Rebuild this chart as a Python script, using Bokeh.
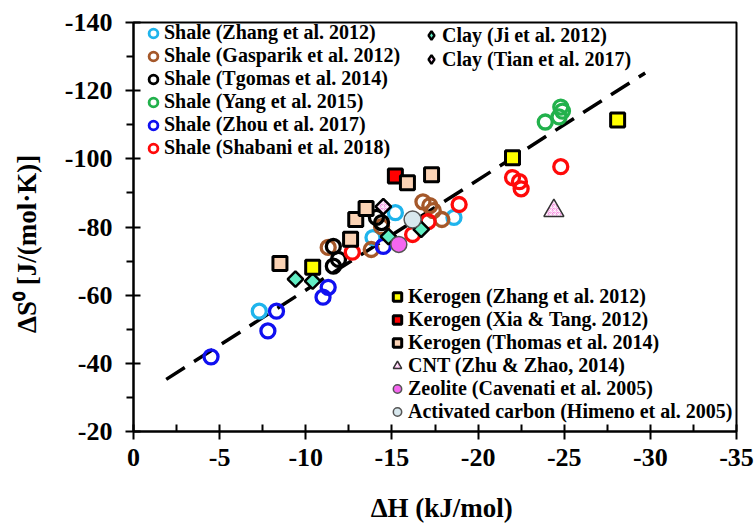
import math
from bokeh.plotting import figure
from bokeh.models import Range1d, FixedTicker, Legend, LegendItem
from bokeh.embed import file_html
from bokeh.resources import INLINE

# ---------------- data (ΔH in kJ/mol, ΔS0 in J/(mol·K)) ----------------
shale_zhang_h = [-7.3, -13.9, -15.2, -18.6]
shale_zhang_s = [-55.3, -76.9, -84.2, -82.8]
shale_gasparik_h = [-11.3, -13.8, -14.4, -16.8, -17.2, -17.4, -17.9]
shale_gasparik_s = [-74.0, -73.4, -80.1, -87.4, -86.3, -84.8, -82.2]
shale_tgomas_h = [-11.6, -11.9, -11.6, -14.1, -14.4]
shale_tgomas_s = [-74.3, -70.5, -68.5, -82.8, -81.3]
shale_yang_h = [-23.9, -24.7, -24.9, -24.8]
shale_yang_s = [-110.8, -112.3, -114.0, -115.2]
shale_zhou_h = [-4.5, -7.8, -8.3, -11.0, -11.3, -14.5]
shale_zhou_s = [-41.9, -49.5, -55.3, -59.4, -62.3, -74.3]
shale_shabani_h = [-12.7, -16.2, -17.1, -18.9, -22.0, -22.4, -22.5, -24.8]
shale_shabani_s = [-72.6, -77.8, -81.6, -86.6, -94.5, -93.3, -91.2, -97.7]
kerogen_zhang_h = [-10.4, -22.0, -28.1]
kerogen_zhang_s = [-68.2, -100.3, -111.4]
kerogen_xia_h = [-15.2]
kerogen_xia_s = [-95.0]
kerogen_thomas_h = [-8.5, -12.6, -12.9, -13.5, -15.9, -17.3]
kerogen_thomas_s = [-69.3, -76.4, -82.2, -85.4, -93.0, -95.3]
clay_ji_h = [-9.4, -10.4, -14.8, -16.7]
clay_ji_s = [-64.7, -64.1, -77.2, -79.3]
clay_tian_h = [-14.5]
clay_tian_s = [-86.0]
cnt_h = [-24.4]
cnt_s = [-84.8]
zeolite_h = [-15.4]
zeolite_s = [-74.9]
ac_h = [-16.2]
ac_s = [-82.2]
fit_h = [-1.9, -29.7]
fit_s = [-35.3, -125.2]

x_ticks = [0, -5, -10, -15, -20, -25, -30, -35]
x_minor = [-2.5, -7.5, -12.5, -17.5, -22.5, -27.5, -32.5]
y_ticks = [-20, -40, -60, -80, -100, -120, -140]
y_minor = [-30, -50, -70, -90, -110, -130]
x_labels = ["0", "-5", "-10", "-15", "-20", "-25", "-30", "-35"]
y_labels = ["-20", "-40", "-60", "-80", "-100", "-120", "-140"]

FONT = "Liberation Serif"
NAN = [float("nan")]
NBSP = "\u00a0"

p = figure(width=756, height=525, output_backend="svg", toolbar_location=None,
           x_range=Range1d(0, -35), y_range=Range1d(-20, -140),
           min_border_left=133, min_border_right=20, min_border_top=22,
           min_border_bottom=92)
p.grid.visible = False
p.outline_line_color = "black"
p.outline_line_width = 2
p.background_fill_color = "white"
p.border_fill_color = "white"

p.xaxis.ticker = FixedTicker(ticks=x_ticks, minor_ticks=x_minor)
p.yaxis.ticker = FixedTicker(ticks=y_ticks, minor_ticks=y_minor)
p.xaxis.major_label_overrides = dict(zip(x_ticks, x_labels))
p.yaxis.major_label_overrides = dict(zip(y_ticks, y_labels))
for ax in (p.xaxis[0], p.yaxis[0]):
    ax.axis_line_width = 2
    ax.major_tick_line_width = 2
    ax.minor_tick_line_width = 2
    ax.major_tick_in = 7
    ax.major_tick_out = 8
    ax.major_label_text_font = FONT
    ax.major_label_text_font_style = "bold"
    ax.major_label_text_font_size = "26px"
    ax.major_label_text_color = "black"
    ax.axis_label_text_font = FONT
    ax.axis_label_text_font_style = "bold"
    ax.axis_label_text_font_size = "27px"
    ax.axis_label_text_color = "black"
p.xaxis.minor_tick_in = 7
p.xaxis.minor_tick_out = 0
p.yaxis.minor_tick_in = 0
p.yaxis.minor_tick_out = 7
p.xaxis.major_label_standoff = 9
p.yaxis.major_label_standoff = 13
p.xaxis.axis_label = NBSP * 2 + "ΔH (kJ/mol)"
p.yaxis.axis_label = "ΔS⁰ [J/(mol·K)]" + NBSP * 5
p.xaxis.axis_label_standoff = 24
p.yaxis.axis_label_standoff = 20

# trend line
p.line(fit_h, fit_s, line_color="black", line_width=3.5, line_dash="22 11")

C_ZHANG, C_GASP, C_TGOM = "#1FB4EC", "#A5582A", "black"
C_YANG, C_ZHOU, C_SHAB = "#22B14C", "#1010F0", "#FF0A0A"
C_JI, C_TIAN = "#62EEC4", "#F58CDF"

ring = dict(marker="circle", size=14, fill_alpha=0, line_width=3.3)
p.scatter(shale_zhang_h, shale_zhang_s, line_color=C_ZHANG, **ring)
p.scatter(shale_gasparik_h, shale_gasparik_s, line_color=C_GASP, **ring)
p.scatter(shale_tgomas_h, shale_tgomas_s, line_color=C_TGOM, **ring)
p.scatter(shale_yang_h, shale_yang_s, line_color=C_YANG, **ring)
p.scatter(shale_zhou_h, shale_zhou_s, line_color=C_ZHOU, **ring)
p.scatter(shale_shabani_h, shale_shabani_s, line_color=C_SHAB, **ring)

hatch = dict(hatch_pattern="criss_cross", hatch_color="white", hatch_scale=4,
             hatch_weight=0.8)
dia = dict(marker="square", size=11, angle=math.pi / 4, line_color="black", line_width=2.5)
p.scatter(clay_ji_h, clay_ji_s, fill_color=C_JI, **dia)
p.scatter(clay_tian_h, clay_tian_s, fill_color=C_TIAN, **hatch, **dia)

sq = dict(marker="square", size=14, line_color="black", line_width=3)
r_kz = p.scatter(kerogen_zhang_h, kerogen_zhang_s, fill_color="#FFFF00", **sq)
r_kx = p.scatter(kerogen_xia_h, kerogen_xia_s, fill_color="#FF0000", **sq)
r_kt = p.scatter(kerogen_thomas_h, kerogen_thomas_s, fill_color="#FBD3B5", **sq)

r_cnt = p.scatter(cnt_h, cnt_s, marker="triangle", size=20, fill_color=C_TIAN,
                  line_color="#333333", line_width=1.5, **hatch)
r_zeo = p.scatter(zeolite_h, zeolite_s, marker="circle", size=16, fill_color="#F566F0",
                  line_color="#555555", line_width=1.5)
r_ac = p.scatter(ac_h, ac_s, marker="circle", size=17, fill_color="#D8E8EE",
                 line_color="#555555", line_width=1.5)

# legend-only glyph styles (no visible data)
lring = dict(marker="circle", fill_alpha=0, line_width=2.8)
l_zhang = p.scatter(NAN, NAN, line_color=C_ZHANG, **lring)
l_gasp = p.scatter(NAN, NAN, line_color=C_GASP, **lring)
l_tgom = p.scatter(NAN, NAN, line_color=C_TGOM, **lring)
l_yang = p.scatter(NAN, NAN, line_color=C_YANG, **lring)
l_zhou = p.scatter(NAN, NAN, line_color=C_ZHOU, **lring)
l_shab = p.scatter(NAN, NAN, line_color=C_SHAB, **lring)
ldia = dict(marker="diamond", line_color="black", line_width=2.4)
l_ji = p.scatter(NAN, NAN, fill_color=C_JI, **ldia)
l_tian = p.scatter(NAN, NAN, fill_color=C_TIAN, **hatch, **ldia)


def make_legend(items, loc, gh, gw):
    lg = Legend(items=[LegendItem(label=t, renderers=[r]) for t, r in items],
                location=loc, orientation="vertical",
                glyph_width=gw, glyph_height=gh, label_height=18,
                label_standoff=0, spacing=0, padding=0, margin=0,
                background_fill_alpha=0, border_line_alpha=0,
                label_text_font=FONT, label_text_font_style="bold",
                label_text_font_size="20px", label_text_color="black")
    p.add_layout(lg)
    return lg


make_legend([("Shale (Zhang et al. 2012)", l_zhang),
             ("Shale (Gasparik et al. 2012)", l_gasp),
             ("Shale (Tgomas et al. 2014)", l_tgom),
             ("Shale (Yang et al. 2015)", l_yang),
             ("Shale (Zhou et al. 2017)", l_zhou),
             ("Shale (Shabani et al. 2018)", l_shab)], (9, 272), 22, 22)
make_legend([("Clay (Ji et al. 2012)", l_ji),
             ("Clay (Tian et al. 2017)", l_tian)], (287, 360), 24, 22)
make_legend([("Kerogen (Zhang et al. 2012)", r_kz),
             ("Kerogen (Xia & Tang. 2012)", r_kx),
             ("Kerogen (Thomas et al. 2014)", r_kt),
             ("CNT (Zhu & Zhao, 2014)", r_cnt),
             ("Zeolite (Cavenati et al. 2005)", r_zeo),
             ("Activated carbon (Himeno et al. 2005)", r_ac)], (253, 8), 21, 22)

open("out.html", "w").write(file_html(p, INLINE))
